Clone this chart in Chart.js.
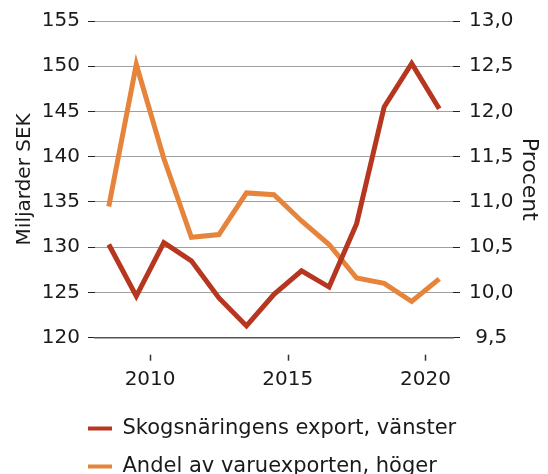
<!DOCTYPE html>
<html lang="sv">
<head>
<meta charset="UTF-8">
<title>Skogsnäringens export</title>
<script src="https://cdn.jsdelivr.net/npm/chart.js"></script>
<style>
  body { margin: 0; background: #fff; }
</style>
</head>
<body>
<canvas id="exportChart" width="548" height="474"></canvas>
<script>
// data
const years = [2008, 2009, 2010, 2011, 2012, 2013, 2014, 2015, 2016, 2017, 2018, 2019, 2020];
const exportSek = [130.3, 124.6, 130.5, 128.5, 124.4, 121.3, 124.8, 127.4, 125.6, 132.6, 145.5, 150.3, 145.3];
const shareOfGoods = [10.95, 12.52, 11.48, 10.61, 10.64, 11.10, 11.08, 10.79, 10.53, 10.16, 10.10, 9.90, 10.15];
const seriesNames = ['Skogsnäringens export, vänster', 'Andel av varuexporten, höger'];
const leftTitle = 'Miljarder SEK';
const rightTitle = 'Procent';

const red = 'rgb(182, 54, 32)';
const orange = 'rgb(229, 132, 58)';

Chart.defaults.font.family = "'DejaVu Sans', sans-serif";
Chart.defaults.font.size = 20;
Chart.defaults.color = '#1a1a1a';

// annual values sit in the middle of each year
const toPoints = (vals) => vals.map((v, i) => ({ x: years[i] + 0.5, y: v }));

// x tick marks sit a bit below the axis line
const xTickMarks = {
  id: 'xTickMarks',
  afterLayout(chart) {
    // legend rows start under the left axis labels
    chart.legend.left = 71;
  },
  afterDraw(chart) {
    const sx = chart.scales.x;
    const ctx = chart.ctx;
    ctx.save();
    ctx.strokeStyle = '#333';
    ctx.lineWidth = 1.5;
    sx.ticks.forEach(t => {
      const px = Math.round(sx.getPixelForValue(t.value)) + 0.5;
      ctx.beginPath();
      ctx.moveTo(px, sx.top + 17);
      ctx.lineTo(px, sx.top + 23);
      ctx.stroke();
    });
    ctx.restore();
  }
};

new Chart(document.getElementById('exportChart'), {
  type: 'line',
  data: {
    datasets: [{
      label: seriesNames[0],
      data: toPoints(exportSek),
      yAxisID: 'y',
      borderColor: red,
      backgroundColor: red,
      borderWidth: 5,
      borderJoinStyle: 'miter',
      pointRadius: 0,
      tension: 0
    }, {
      label: seriesNames[1],
      data: toPoints(shareOfGoods),
      yAxisID: 'y1',
      borderColor: orange,
      backgroundColor: orange,
      borderWidth: 5,
      borderJoinStyle: 'miter',
      pointRadius: 0,
      tension: 0
    }]
  },
  options: {
    responsive: false,
    animation: false,
    layout: { padding: { top: 17, bottom: -13, left: 0, right: 0 } },
    plugins: {
      tooltip: { enabled: false },
      legend: {
        position: 'bottom',
        align: 'start',
        labels: {
          font: { size: 21 },
          boxWidth: 24,
          boxHeight: 4,
          padding: 17,
          generateLabels: (chart) =>
            Chart.defaults.plugins.legend.labels.generateLabels(chart).map(l => ({ ...l, lineWidth: 0 }))
        }
      }
    },
    scales: {
      x: {
        type: 'linear',
        min: 2008,
        max: 2021,
        afterFit: (s) => { s.height = 63.3; },
        grid: { display: false, drawTicks: false },
        border: { display: true, color: '#555', width: 1.5 },
        ticks: {
          stepSize: 5,
          includeBounds: false,
          padding: 30,
          callback: (v) => String(v)
        }
      },
      y: {
        position: 'left',
        min: 120,
        max: 155,
        afterFit: (s) => { s.width = 95; },
        grid: { color: '#a0a0a0', lineWidth: 1, tickColor: '#222', tickLength: 7 },
        border: { display: false },
        ticks: { stepSize: 5, padding: 8 },
        title: { display: true, text: leftTitle, font: { size: 20 }, padding: { top: 13, bottom: 0 } }
      },
      y1: {
        position: 'right',
        min: 9.5,
        max: 13,
        afterFit: (s) => { s.width = 95; },
        grid: { drawOnChartArea: false, tickColor: '#222', tickLength: 7 },
        border: { display: false },
        ticks: {
          stepSize: 0.5,
          padding: 9,
          crossAlign: 'center',
          callback: (v) => v.toFixed(1).replace('.', ',')
        },
        title: { display: true, text: rightTitle, font: { size: 22 }, padding: { top: 6, bottom: 0 } }
      }
    }
  },
  plugins: [xTickMarks]
});
</script>
</body>
</html>
